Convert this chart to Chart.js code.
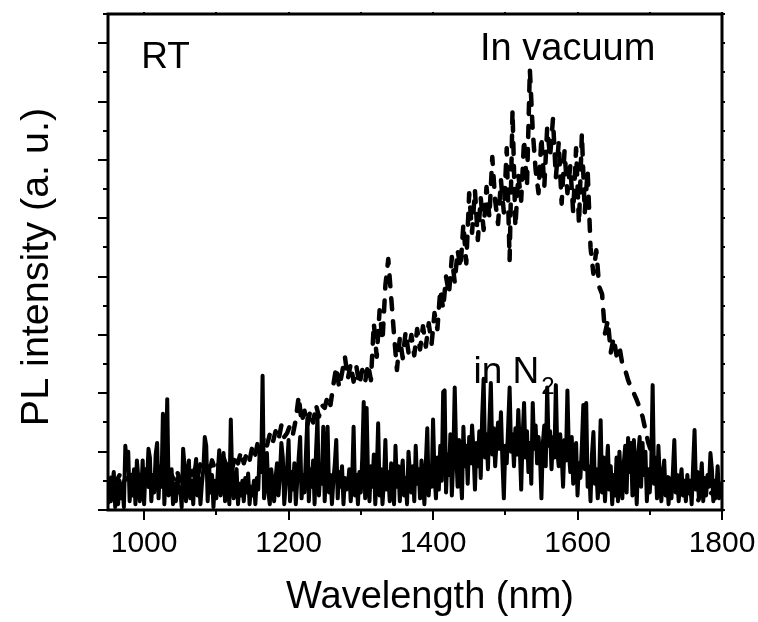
<!DOCTYPE html>
<html>
<head>
<meta charset="utf-8">
<script src="https://cdn.jsdelivr.net/npm/chart.js@4/dist/chart.umd.min.js"></script>
<style>
  html, body { margin: 0; padding: 0; background: #fff; }
  canvas { display: block; }
</style>
</head>
<body>
<canvas id="pl" width="758" height="622"></canvas>
<script>
// Sampling grids (nm): both scans start at 950 nm
const wlStart = 950;
const n2Step = 2;      // N2 scan: 950, 952, ... 1800
const vacuumStep = 4;  // vacuum scan: 950, 954, ... 1798

// PL intensity (a. u.) measured in N2 ambient, one row per 50 nm
const inN2 = [
  0.2, 1.0, 0.3, 0.9, 1.3, 0.1, 0.8, 0.2, 1.0, 0.4, 0.9, 0.1, 2.2, 1.6, 2.0, 0.3, 1.2, 0.5, 1.4, 0.2, 1.7, 1.1, 0.3, 0.6, 1.7,
  0.2, 1.4, 0.9, 2.1, 1.8, 0.3, 1.2, 0.6, 1.9, 2.3, 0.4, 1.5, 0.8, 3.3, 0.2, 1.3, 3.8, 0.5, 1.0, 1.4, 0.2, 0.9, 0.3, 1.1, 0.6,
  0.75, 0.1, 2.1, 1.5, 0.3, 1.2, 1.7, 0.4, 1.0, 0.2, 1.3, 1.75, 0.5, 1.1, 0.2, 0.9, 1.4, 2.5, 2.2, 0.3, 1.5, 0.6, 1.2, 0.1, 1.0,
  0.4, 1.3, 2.05, 0.5, 1.1, 1.95, 0.3, 1.4, 0.8, 0.2, 3.1, 1.0, 0.4, 1.2, 1.4, 0.2, 0.9, 0.5, 1.0, 0.3, 1.1, 0.6, 1.25, 0.2, 0.8,
  0.5, 1.0, 0.2, 1.1, 0.7, 2.05, 1.3, 4.6, 0.4, 1.2, 1.95, 0.6, 0.2, 1.4, 0.9, 0.3, 1.1, 1.6, 0.5, 1.2, 2.3, 1.8, 0.2, 0.9, 1.5,
  2.4, 0.3, 1.3, 0.7, 1.6, 0.2, 1.0, 1.8, 2.5, 0.4, 1.2, 0.6, 1.9, 3.15, 0.3, 1.4, 0.8, 1.7, 0.2, 2.0, 3.15, 0.5, 1.3, 0.9, 2.85,
  0.3, 1.5, 2.85, 0.6, 1.2, 0.2, 1.0, 1.6, 2.4, 0.4, 1.3, 0.8, 1.5, 0.2, 1.1, 0.7, 0.8, 1.4, 0.3, 1.0, 2.85, 0.5, 1.2, 0.2, 1.3,
  0.6, 1.8, 3.7, 0.4, 3.5, 1.1, 0.3, 1.5, 0.8, 1.9, 0.2, 1.2, 2.97, 0.5, 1.4, 0.2, 1.0, 2.4, 0.7, 1.3, 0.3, 1.6, 0.9, 0.2, 2.2,
  0.8, 1.5, 0.3, 1.2, 1.7, 0.5, 1.1, 0.2, 2.0, 1.3, 0.6, 1.5, 0.3, 2.2, 0.9, 1.4, 0.4, 1.7, 1.0, 0.2, 1.6, 2.8, 0.5, 1.4, 0.8,
  3.1, 1.2, 0.4, 1.8, 0.7, 2.2, 1.0, 4.05, 4.1, 0.6, 1.9, 1.2, 2.6, 0.5, 1.7, 4.2, 2.0, 0.8, 2.4, 1.3, 0.4, 2.85, 1.5, 2.2, 0.9,
  2.5, 1.6, 2.9, 2.0, 0.7, 2.3, 1.5, 2.7, 1.1, 3.2, 4.5, 1.8, 2.6, 1.4, 3.0, 4.35, 1.9, 2.8, 1.5, 2.4, 3.0, 2.1, 3.35, 1.7, 0.4,
  2.2, 1.6, 2.9, 4.2, 2.0, 2.6, 1.5, 2.8, 1.9, 3.43, 2.2, 0.7, 2.5, 3.67, 1.8, 2.7, 1.3, 2.3, 0.9, 3.67, 2.1, 2.9, 1.6, 2.5, 1.9,
  0.4, 2.3, 2.9, 1.5, 4.2, 2.2, 2.7, 1.4, 2.5, 1.8, 4.28, 2.0, 1.5, 2.6, 1.9, 0.8, 2.4, 1.7, 4.1, 2.0, 1.3, 2.5, 0.9, 1.8, 2.3,
  0.5, 1.6, 1.1, 2.2, 3.6, 1.4, 3.67, 0.8, 1.5, 0.3, 1.9, 2.67, 0.9, 1.4, 0.4, 1.2, 3.08, 0.6, 1.8, 0.3, 1.3, 2.2, 0.7, 1.5, 0.2,
  1.2, 0.5, 1.8, 0.3, 2.0, 1.0, 0.4, 1.6, 2.2, 0.6, 2.47, 1.3, 2.3, 0.5, 2.4, 1.4, 0.2, 1.9, 2.5, 0.8, 2.3, 1.2, 2.0, 0.3, 1.4,
  0.6, 1.5, 4.28, 0.9, 1.8, 0.4, 2.2, 1.0, 0.3, 1.2, 1.7, 0.5, 1.1, 0.2, 0.9, 0.4, 1.3, 2.4, 0.6, 1.2, 0.3, 0.9, 1.4, 0.5, 1.0,
  0.3, 1.2, 0.6, 1.0, 0.2, 1.5, 2.74, 0.7, 1.3, 0.4, 0.9, 1.6, 0.3, 1.1, 0.5, 1.2, 0.8, 1.95, 1.4, 0.3, 1.0, 0.6, 1.5, 0.4, 0.9,
  0.5
];

// PL intensity (a. u.) measured in vacuum, one row per 100 nm
const inVacuum = [
  0.9, 1.1, 0.7, 1.0, 1.2, 0.8, 1.1, 0.9, 1.2, 0.8, 1.0, 1.2, 0.9, 1.1, 0.8, 1.2, 1.0, 0.9, 1.2, 1.0, 1.3, 0.9, 1.2, 1.0, 1.3,
  1.0, 1.4, 1.1, 1.5, 1.2, 1.4, 1.1, 1.6, 1.3, 1.5, 1.2, 1.7, 1.4, 1.6, 1.3, 1.8, 1.5, 1.7, 1.4, 1.9, 1.6, 2.0, 1.6, 1.95, 1.7,
  2.2, 1.9, 2.4, 2.1, 2.5, 2.2, 2.6, 2.3, 2.7, 2.4, 2.9, 2.5, 2.64, 2.9, 2.6, 3.1, 3.9, 3.0, 3.4, 2.9, 3.4, 3.0, 3.6, 3.2, 3.6,
  3.5, 3.9, 3.6, 4.3, 4.9, 4.2, 4.7, 5.25, 4.5, 5.0, 4.4, 4.9, 4.3, 4.8, 4.4, 5.0, 4.45, 6.4, 5.25, 6.85, 5.8, 7.7, 8.6, 7.3, 6.0,
  4.8, 5.9, 5.2, 6.1, 5.4, 6.0, 5.3, 6.2, 5.5, 6.3, 5.6, 6.4, 5.7, 6.75, 6.2, 7.55, 6.9, 8.0, 7.4, 8.67, 7.8, 8.9, 8.3, 9.8, 8.45,
  10.86, 9.5, 10.96, 9.25, 10.7, 9.6, 11.07, 10.04, 12.1, 10.6, 9.8, 11.3, 10.2, 12.4, 8.57, 13.7, 9.7, 11.5, 10.6, 12.7, 11.07, 15.1, 13.0, 11.65, 10.86,
  12.78, 11.07, 13.1, 12.1, 13.4, 11.4, 12.6, 10.5, 12.3, 10.86, 11.8, 10.2, 12.4, 9.8, 12.9, 10.2, 11.65, 9.0, 8.1, 8.9, 7.65, 7.4, 6.05, 6.5, 5.4,
  5.9, 5.3, 5.6, 5.0, 4.8, 4.45, 4.2, 4.0, 3.77, 3.5, 3.2, 2.74, 2.3, 2.0, 1.7, 1.6, 1.4, 1.37, 1.2, 1.1, 1.0, 1.1, 0.9, 0.8, 0.8,
  0.7, 0.6, 0.5, 0.4, 0.27, 0.5, 0.6, 0.4, 0.5, 0.6, 0.4, 0.5, 0.6
];

// Axis ticks
const xTickLabels = [1000, 1200, 1400, 1600, 1800];
const xMinorTicks = [1000, 1100, 1200, 1300, 1400, 1500, 1600, 1700, 1800];
const yTicks = [0, 1, 2, 3, 4, 5, 6, 7, 8, 9, 10, 11, 12, 13, 14, 15, 16, 17];

const toPoints = (vals, step) => vals.map((v, i) => ({ x: wlStart + i * step, y: v }));

const FONT = "'Liberation Sans', Arial, Helvetica, sans-serif";

// Frame, tick marks, axis titles and in-plot labels
const frameAndLabels = {
  id: 'frameAndLabels',
  afterDraw(chart) {
    const { ctx, chartArea: a, scales: { x, y } } = chart;
    ctx.save();
    ctx.strokeStyle = '#000';
    ctx.fillStyle = '#000';

    ctx.lineWidth = 2;
    ctx.beginPath();
    yTicks.forEach(v => {
      const py = Math.round(y.getPixelForValue(v));
      const len = v % 2 === 0 ? 10 : 5;
      ctx.moveTo(a.left - len, py); ctx.lineTo(a.left, py);
      ctx.moveTo(a.right, py); ctx.lineTo(a.right + 3, py);
    });
    xMinorTicks.forEach(v => {
      const px = Math.round(x.getPixelForValue(v));
      const len = xTickLabels.includes(v) ? 10 : 5;
      ctx.moveTo(px, a.bottom); ctx.lineTo(px, a.bottom + len);
      ctx.moveTo(px, a.top); ctx.lineTo(px, a.top - 2);
    });
    ctx.stroke();

    ctx.lineWidth = 3;
    ctx.strokeRect(a.left, a.top, a.right - a.left, a.bottom - a.top);

    // axis titles
    ctx.textAlign = 'center';
    ctx.textBaseline = 'middle';
    ctx.font = `38px ${FONT}`;
    ctx.fillText('Wavelength (nm)', 430, 598);
    ctx.save();
    ctx.translate(37, 267);
    ctx.rotate(-Math.PI / 2);
    ctx.font = `39.5px ${FONT}`;
    ctx.fillText('PL intensity (a. u.)', 0, 0);
    ctx.restore();

    // labels placed in data coordinates
    ctx.textAlign = 'left';
    ctx.textBaseline = 'alphabetic';
    ctx.font = `37px ${FONT}`;
    ctx.fillText('RT', x.getPixelForValue(996), y.getPixelForValue(15.15));
    ctx.font = `38px ${FONT}`;
    ctx.fillText('In vacuum', x.getPixelForValue(1465), y.getPixelForValue(15.42));
    ctx.font = `37px ${FONT}`;
    const nx = x.getPixelForValue(1456);
    const ny = y.getPixelForValue(4.35);
    ctx.fillText('in N', nx, ny);
    const w = ctx.measureText('in N').width;
    ctx.font = `24px ${FONT}`;
    ctx.fillText('2', nx + w + 2, ny + 11);
    ctx.restore();
  }
};

new Chart(document.getElementById('pl'), {
  type: 'line',
  data: {
    datasets: [
      {
        label: 'in N2',
        data: toPoints(inN2, n2Step),
        borderColor: '#000',
        borderWidth: 4,
        pointRadius: 0,
        tension: 0,
        borderJoinStyle: 'round'
      },
      {
        label: 'In vacuum',
        data: toPoints(inVacuum, vacuumStep),
        borderColor: '#000',
        borderWidth: 4.5,
        borderDash: [11, 12],
        borderCapStyle: 'round',
        borderJoinStyle: 'round',
        pointRadius: 0,
        tension: 0
      }
    ]
  },
  options: {
    responsive: false,
    animation: false,
    devicePixelRatio: 1,
    layout: { padding: { left: 0, right: 36, top: 14, bottom: 0 } },
    plugins: { legend: { display: false }, tooltip: { enabled: false } },
    scales: {
      x: {
        type: 'linear',
        min: 950,
        max: 1800,
        afterBuildTicks: s => { s.ticks = xTickLabels.map(v => ({ value: v })); },
        afterFit: s => { s.height = 112; s.paddingLeft = 0; s.paddingRight = 0; },
        grid: { display: false, drawTicks: false },
        border: { display: false },
        ticks: {
          color: '#000',
          padding: 16,
          maxRotation: 0,
          autoSkip: false,
          font: { family: FONT, size: 30 },
          callback: v => String(v)
        }
      },
      y: {
        min: 0,
        max: 17,
        afterFit: s => { s.width = 108; },
        grid: { display: false, drawTicks: false },
        border: { display: false },
        ticks: { display: false }
      }
    }
  },
  plugins: [frameAndLabels]
});
</script>
</body>
</html>
